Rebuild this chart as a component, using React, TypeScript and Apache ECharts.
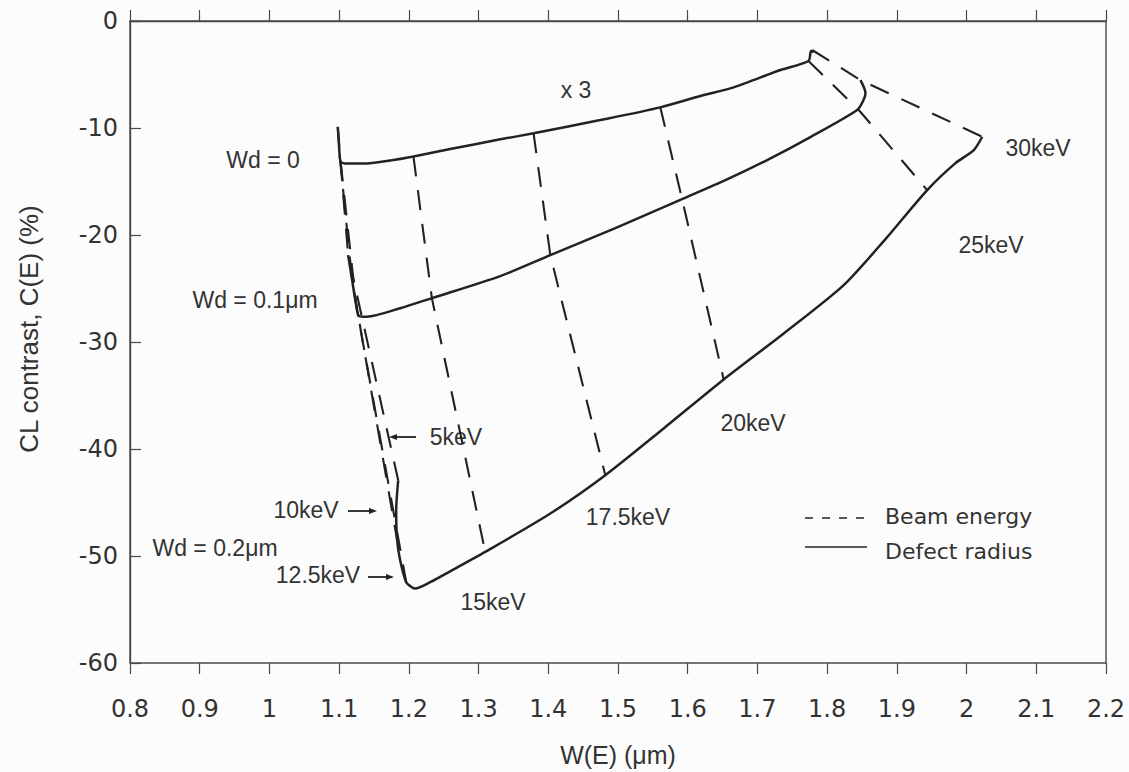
import React, { useEffect, useRef } from "react";
import * as echarts from "echarts";

// Axis ranges
const X_MIN = 0.8;
const X_MAX = 2.2;
const X_STEP = 0.1;
const Y_MIN = -60;
const Y_MAX = 0;
const Y_STEP = 10;

// Defect-radius curves (solid): [W(E) µm, C(E) %], beam energy rising 5 → 30 keV
const wd0Times3: [number, number][] = [
  [1.098, -9.9], [1.0993, -11.13], [1.1007, -12.53], [1.1021, -13.14],
  [1.1086, -13.31], [1.1397, -13.31], [1.1732, -13.04], [1.2066, -12.66],
  [1.2593, -11.97], [1.3311, -11.06], [1.3789, -10.5], [1.4746, -9.26],
  [1.5607, -8.07], [1.6181, -7.01], [1.6659, -6.2], [1.733, -4.58],
  [1.7732, -3.74], [1.7768, -2.81], [1.7804, -2.9],
];
const wd01: [number, number][] = [
  [1.1129, -21.88], [1.1186, -24.22], [1.1244, -26.55], [1.1287, -27.58],
  [1.1397, -27.63], [1.1875, -26.84], [1.233, -25.9], [1.3311, -23.84],
  [1.4029, -21.88], [1.4962, -19.35], [1.5919, -16.64], [1.6541, -14.87],
  [1.7139, -13.0], [1.776, -10.85], [1.8431, -8.32], [1.8521, -7.39],
  [1.855, -6.73], [1.8478, -5.52],
];
const wd02: [number, number][] = [
  [1.1847, -42.92], [1.1818, -45.72], [1.1832, -48.53], [1.1875, -50.4],
  [1.1962, -52.45], [1.2043, -52.92], [1.2091, -53.04], [1.2306, -52.45],
  [1.2593, -51.43], [1.3095, -49.62], [1.4029, -46.03], [1.4818, -42.45],
  [1.5655, -38.08], [1.6516, -33.5], [1.7377, -29.2], [1.8238, -24.68],
  [1.8837, -20.38], [1.9435, -15.8], [1.9841, -13.28], [2.0104, -12.06],
  [2.0225, -10.82],
];

// Beam-energy lines (dashed): points at Wd = 0, 0.1 µm, 0.2 µm
const beam5keV: [number, number][] = [[1.098, -9.9], [1.1129, -21.88], [1.1847, -42.92]];
const beam10keV: [number, number][] = [[1.1007, -12.53], [1.1186, -24.22], [1.1832, -48.53]];
const beam12_5keV: [number, number][] = [[1.1021, -13.14], [1.1244, -26.55], [1.1962, -52.45]];
const beam15keV: [number, number][] = [[1.2066, -12.66], [1.233, -25.9], [1.3095, -49.62]];
const beam17_5keV: [number, number][] = [[1.3789, -10.5], [1.4029, -21.88], [1.4818, -42.45]];
const beam20keV: [number, number][] = [[1.5607, -8.07], [1.5919, -16.64], [1.6516, -33.5]];
const beam25keV: [number, number][] = [[1.7732, -3.74], [1.8454, -8.32], [1.9435, -15.8]];
const beam30keV: [number, number][] = [[1.7785, -2.71], [1.8478, -5.52], [2.0225, -10.82]];

const defectCurves = [wd0Times3, wd01, wd02];
const beamLines = [
  beam5keV, beam10keV, beam12_5keV, beam15keV,
  beam17_5keV, beam20keV, beam25keV, beam30keV,
];

const INK = "#222222";
const AXIS = "#4a4a4a";
const TEXT = "#333333";
const LABEL_FONT = "23px Liberation Sans, Arial, sans-serif";

// Curve annotations: text with its centre in pixels
const annotations: { text: string; x: number; y: number }[] = [
  { text: "x 3", x: 576, y: 90 },
  { text: "Wd = 0", x: 263, y: 160 },
  { text: "Wd = 0.1μm", x: 255, y: 300 },
  { text: "Wd = 0.2μm", x: 215, y: 548 },
  { text: "5keV", x: 456, y: 437 },
  { text: "10keV", x: 306, y: 510 },
  { text: "12.5keV", x: 318, y: 575 },
  { text: "15keV", x: 493, y: 602 },
  { text: "17.5keV", x: 628, y: 517 },
  { text: "20keV", x: 753, y: 423 },
  { text: "25keV", x: 991, y: 245 },
  { text: "30keV", x: 1038, y: 148 },
];

// Leader arrows: from tail to head (arrowhead at head)
const arrows: { x1: number; y1: number; x2: number; y2: number }[] = [
  { x1: 416, y1: 437, x2: 389, y2: 437 },
  { x1: 348, y1: 511, x2: 377, y2: 511 },
  { x1: 368, y1: 577, x2: 394, y2: 577 },
];

function arrowElements() {
  const els: any[] = [];
  arrows.forEach((a) => {
    const dir = Math.sign(a.x2 - a.x1);
    els.push({
      type: "line",
      shape: { x1: a.x1, y1: a.y1, x2: a.x2 - dir * 4, y2: a.y2 },
      style: { stroke: INK, lineWidth: 1.8 },
      silent: true,
    });
    els.push({
      type: "polygon",
      shape: {
        points: [
          [a.x2, a.y2],
          [a.x2 - dir * 8, a.y2 - 3],
          [a.x2 - dir * 8, a.y2 + 3],
        ],
      },
      style: { fill: INK },
      silent: true,
    });
  });
  return els;
}

function textElement(text: string, x: number, y: number, font: string, rotation = 0) {
  return {
    type: "text",
    x,
    y,
    rotation,
    silent: true,
    style: {
      text,
      font,
      fill: TEXT,
      align: "center",
      verticalAlign: "middle",
      textAlign: "center",
      textVerticalAlign: "middle",
    },
  };
}

function legendElements() {
  const legendFont = "22px DejaVu Sans, sans-serif";
  return [
    {
      type: "line",
      shape: { x1: 805, y1: 518, x2: 869, y2: 518 },
      style: { stroke: INK, lineWidth: 1.6, lineDash: [8, 9] },
      silent: true,
    },
    {
      type: "line",
      shape: { x1: 805, y1: 547, x2: 867, y2: 547 },
      style: { stroke: INK, lineWidth: 1.6 },
      silent: true,
    },
    {
      type: "text",
      x: 885,
      y: 516,
      silent: true,
      style: {
        text: "Beam energy", font: legendFont, fill: TEXT,
        align: "left", verticalAlign: "middle",
        textAlign: "left", textVerticalAlign: "middle",
      },
    },
    {
      type: "text",
      x: 885,
      y: 551,
      silent: true,
      style: {
        text: "Defect radius", font: legendFont, fill: TEXT,
        align: "left", verticalAlign: "middle",
        textAlign: "left", textVerticalAlign: "middle",
      },
    },
  ];
}

const fmtX = (v: number) => String(Math.round(v * 10) / 10);

function buildOption(): any {
  const series: any[] = [];
  defectCurves.forEach((pts) => {
    series.push({
      name: "Defect radius",
      type: "line",
      data: pts,
      symbol: "none",
      smooth: 0.25,
      lineStyle: { color: INK, width: 2.5, type: "solid" },
      z: 3,
    });
  });
  beamLines.forEach((pts) => {
    series.push({
      name: "Beam energy",
      type: "line",
      data: pts,
      symbol: "none",
      lineStyle: { color: INK, width: 2.1, type: [20, 14] },
      z: 2,
    });
  });

  const tickFont = { fontFamily: "DejaVu Sans", fontSize: 24, color: TEXT };

  return {
    animation: false,
    backgroundColor: "#fcfcfc",
    grid: {
      left: 130,
      top: 21,
      right: 23,
      bottom: 109,
      containLabel: false,
      outerBoundsMode: "none",
      show: true,
      borderColor: AXIS,
      borderWidth: 1.4,
      backgroundColor: "transparent",
    },
    xAxis: [
      {
        type: "value",
        min: X_MIN,
        max: X_MAX,
        interval: X_STEP,
        position: "bottom",
        axisLine: { show: true, lineStyle: { color: AXIS, width: 1.4 } },
        axisTick: { show: true, inside: true, length: 11, lineStyle: { color: AXIS, width: 1.2 } },
        axisLabel: { ...tickFont, margin: 34, formatter: fmtX },
        splitLine: { show: false },
        name: "W(E) (μm)",
        nameLocation: "middle",
        nameGap: 79,
        nameTextStyle: { fontFamily: "Liberation Sans", fontSize: 25, color: TEXT },
      },
      {
        type: "value",
        min: X_MIN,
        max: X_MAX,
        interval: X_STEP,
        position: "bottom",
        axisLine: { show: false },
        axisTick: { show: true, inside: false, length: 11, lineStyle: { color: AXIS, width: 1.2 } },
        axisLabel: { show: false },
        splitLine: { show: false },
      },
    ],
    yAxis: {
      type: "value",
      min: Y_MIN,
      max: Y_MAX,
      interval: Y_STEP,
      axisLine: { show: true, lineStyle: { color: AXIS, width: 1.4 } },
      axisTick: { show: true, inside: true, length: 11, lineStyle: { color: AXIS, width: 1.2 } },
      axisLabel: { ...tickFont, margin: 12 },
      splitLine: { show: false },
    },
    series,
    graphic: {
      elements: [
        textElement("CL contrast, C(E) (%)", 29, 329, "26px Liberation Sans, Arial, sans-serif", Math.PI / 2),
        ...annotations.map((a) => textElement(a.text, a.x, a.y, LABEL_FONT)),
        ...arrowElements(),
        ...legendElements(),
      ],
    },
  };
}

export default function App() {
  const ref = useRef<HTMLDivElement>(null);
  useEffect(() => {
    if (!ref.current) return;
    const chart = echarts.init(ref.current, null, { renderer: "svg" });
    chart.setOption(buildOption());
    return () => chart.dispose();
  }, []);
  return (
    <div
      ref={ref}
      style={{ position: "absolute", left: 0, top: 0, width: 1129, height: 772, background: "#fcfcfc" }}
    />
  );
}
